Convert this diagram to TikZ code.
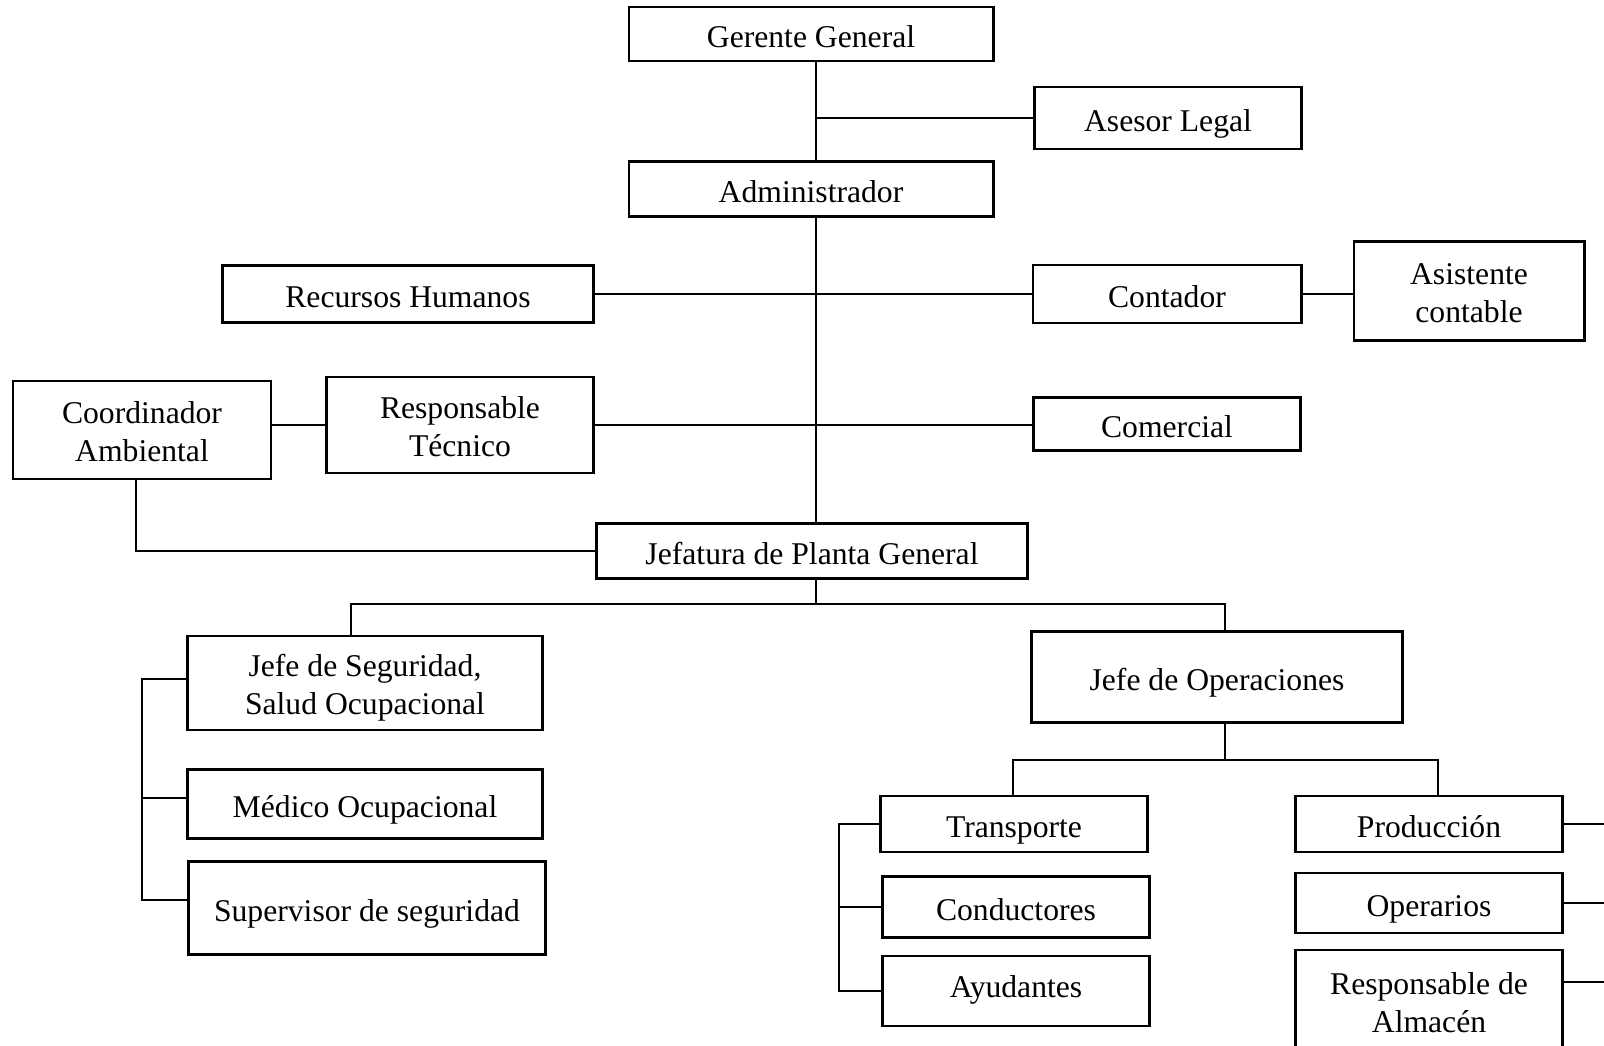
\documentclass[tikz,border=0pt]{standalone}
\usepackage{fontspec}
\setmainfont{Liberation Serif}
\newcommand{\alto}{\rule{0pt}{1.02em}}
\begin{document}
\begin{tikzpicture}[x=0.01cm, y=-0.01cm,
  caja/.style={draw, line width=0.8pt, inner sep=0pt, align=center,
    font=\fontsize{9}{10.8}\selectfont,
    execute at begin node={\rule[-0.22em]{0pt}{1.31em}},
    execute at end node={\rule[-0.22em]{0pt}{0.22em}}},
  linea/.style={line width=0.4pt}]
  \useasboundingbox (0,0) rectangle (1604,1045);
  \clip (0,0) rectangle (1604,1045);

  % Top of the chart
  \node[caja, minimum width=3.64cm, minimum height=0.54cm] (gerente) at (811,34) {Gerente General};
  \node[caja, minimum width=2.67cm, minimum height=0.62cm] (asesor) at (1168,118) {Asesor Legal};
  \node[caja, minimum width=3.64cm, minimum height=0.55cm] (admin) at (811,189) {Administrador};

  % Staff around the administrator
  \node[caja, minimum width=3.71cm, minimum height=0.57cm] (rrhh) at (408,294) {Recursos Humanos};
  \node[caja, minimum width=2.68cm, minimum height=0.58cm] (contador) at (1167,294) {Contador};
  \node[caja, minimum width=2.30cm, minimum height=0.99cm] (asistente) at (1469,291) {\alto Asistente\\contable};
  \node[caja, minimum width=2.58cm, minimum height=0.98cm] (coord) at (142,430) {\alto Coordinador\\Ambiental};
  \node[caja, minimum width=2.67cm, minimum height=0.96cm] (resptec) at (460,425) {\alto Responsable\\Técnico};
  \node[caja, minimum width=2.67cm, minimum height=0.53cm] (comercial) at (1167,424) {Comercial};

  % Plant level
  \node[caja, minimum width=4.31cm, minimum height=0.55cm] (jefatura) at (812,551) {Jefatura de Planta General};
  \node[caja, minimum width=3.54cm, minimum height=0.94cm] (jefeseg) at (365,683) {\alto Jefe de Seguridad,\\Salud Ocupacional};
  \node[caja, minimum width=3.54cm, minimum height=0.69cm] (medico) at (365,804) {Médico Ocupacional};
  \node[caja, minimum width=3.56cm, minimum height=0.93cm] (supervisor) at (367,908) {Supervisor de seguridad};
  \node[caja, minimum width=3.71cm, minimum height=0.91cm] (jefeop) at (1217,677) {Jefe de Operaciones};

  % Operations
  \node[caja, minimum width=2.67cm, minimum height=0.56cm] (transporte) at (1014,824) {Transporte};
  \node[caja, minimum width=2.67cm, minimum height=0.61cm] (conductores) at (1016,907) {Conductores};
  \node[caja, minimum width=2.67cm, minimum height=0.70cm, text depth=0.63em] (ayudantes) at (1016,991) {Ayudantes};
  \node[caja, minimum width=2.67cm, minimum height=0.56cm] (produccion) at (1429,824) {Producción};
  \node[caja, minimum width=2.67cm, minimum height=0.60cm] (operarios) at (1429,903) {Operarios};
  \node[caja, minimum width=2.67cm, minimum height=1.02cm] (almacen) at (1429,1001) {\alto Responsable de\\Almacén};

  % Helper points for the connectors
  \coordinate (eje) at (816,0);
  \coordinate (rama1) at (351,604);
  \coordinate (rama2) at (1225,604);
  \coordinate (rama3) at (1013,760);
  \coordinate (rama4) at (1438,760);
  \coordinate (brazo1) at (142,0);
  \coordinate (brazo2) at (839,0);
  \coordinate (borde) at (1604,0);

  % Main spine
  \draw[linea] (eje |- gerente.south) -- (eje |- admin.north);
  \draw[linea] (asesor.west) -- (asesor.west -| eje);
  \draw[linea] (eje |- admin.south) -- (eje |- jefatura.north);

  % Side branches
  \draw[linea] (rrhh.east) -- (rrhh.east -| contador.west);
  \draw[linea] (contador.east) -- (contador.east -| asistente.west);
  \draw[linea] (resptec.west) -- (resptec.west -| coord.east);
  \draw[linea] (resptec.east) -- (resptec.east -| comercial.west);
  \draw[linea] ([xshift=-0.06cm]coord.south) |- (jefatura.west);

  % Below the plant head
  \draw[linea] (eje |- jefatura.south) -- (eje |- rama1);
  \draw[linea] (rama1 |- jefeseg.north) -- (rama1) -- (rama2) -- (rama2 |- jefeop.north);
  \draw[linea] ([yshift=0.04cm]jefeseg.west) -- ([yshift=0.04cm]jefeseg.west -| brazo1)
    -- ([yshift=0.08cm]supervisor.west -| brazo1) -- ([yshift=0.08cm]supervisor.west);
  \draw[linea] ([yshift=0.06cm]medico.west) -- ([yshift=0.06cm]medico.west -| brazo1);

  % Below operations
  \draw[linea] (rama2 |- jefeop.south) -- (rama2 |- rama3);
  \draw[linea] (rama3 |- transporte.north) -- (rama3) -- (rama4) -- (rama4 |- produccion.north);
  \draw[linea] (transporte.west) -- (transporte.west -| brazo2) -- (ayudantes.west -| brazo2) -- (ayudantes.west);
  \draw[linea] (conductores.west) -- (conductores.west -| brazo2);

  % Lines leaving the page on the right
  \draw[linea] (produccion.east) -- (produccion.east -| borde);
  \draw[linea] (operarios.east) -- (operarios.east -| borde);
  \draw[linea] ([yshift=0.19cm]almacen.east) -- ([yshift=0.19cm]almacen.east -| borde);
\end{tikzpicture}
\end{document}
